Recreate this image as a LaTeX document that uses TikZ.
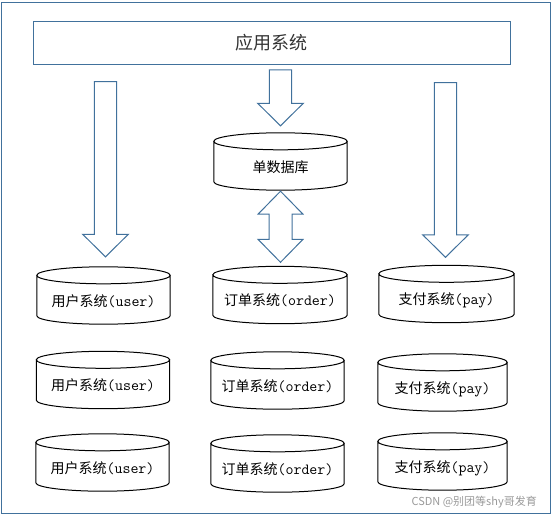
\documentclass[tikz,border=0pt]{standalone}
\usepackage{fontspec}
\setmainfont{Noto Sans CJK SC}
\usetikzlibrary{calc}
\definecolor{frameblue}{RGB}{65,113,156}
\newcommand{\dbtt}[1]{{\ttfamily\fontsize{15.5}{16}\selectfont #1}}

\begin{document}
\begin{tikzpicture}[
  x=1pt, y=-1pt,
  blueline/.style={draw=frameblue, line width=1pt},
  appbox/.style={
    blueline, minimum width=477pt, minimum height=43pt, inner sep=0pt,
    font=\fontsize{18}{20}\selectfont, text=black!80
  },
  % database drum: the node only holds the text, the outline is drawn below
  dbcyl/.style={
    minimum width=#1, minimum height=57pt, inner sep=0pt,
    text height=21pt, text depth=0pt, font=\fontsize{14}{16}\selectfont
  },
  dbcyl/.default=133pt,
  dbline/.style={draw=black, line width=1pt},
  % hollow block arrows
  blockdown/.style={
    blueline, fill=white, line join=miter,
    to path={let \p1=(\tikztostart), \p2=(\tikztotarget) in
      (\x1-11.2pt,\y1) -- (\x1+11.2pt,\y1) -- (\x1+11.2pt,\y2+22.5pt)
      -- (\x1+22.8pt,\y2+22.5pt) -- (\x1,\y2) -- (\x1-22.8pt,\y2+22.5pt)
      -- (\x1-11.2pt,\y2+22.5pt) -- cycle}
  },
  blockboth/.style={
    blueline, fill=white, line join=miter,
    to path={let \p1=(\tikztostart), \p2=(\tikztotarget) in
      (\x1,\y1) -- (\x1+22.5pt,\y1-23pt) -- (\x1+11.5pt,\y1-23pt)
      -- (\x1+11.5pt,\y2+23pt) -- (\x1+22.5pt,\y2+23pt) -- (\x1,\y2)
      -- (\x1-22.5pt,\y2+23pt) -- (\x1-11.5pt,\y2+23pt)
      -- (\x1-11.5pt,\y1-23pt) -- (\x1-22.5pt,\y1-23pt) -- cycle}
  }
]
\useasboundingbox (0,0) rectangle (554,519);

% ---------- outer frame and application box ----------
\draw[blueline] (1.5,2.3) rectangle (550,513.5);
\node[appbox] (app) at (271.7,42.7) {应用系统};

% ---------- single database ----------
\node[dbcyl] (db) at (280.5,161.5) {单数据库};

% ---------- split databases ----------
\node[dbcyl] (u1) at (103.5,295.5) {用户系统\dbtt{(user)}};
\node[dbcyl] (u2) at (103,380)     {用户系统\dbtt{(user)}};
\node[dbcyl] (u3) at (102.5,462.5) {用户系统\dbtt{(user)}};

\node[dbcyl=134pt] (o1) at (280,295)     {订单系统\dbtt{(order)}};
\node[dbcyl] (o2) at (277.5,380.5) {订单系统\dbtt{(order)}};
\node[dbcyl] (o3) at (277.5,463.5) {订单系统\dbtt{(order)}};

\node[dbcyl=135pt] (p1) at (446.5,294)   {支付系统\dbtt{(pay)}};
\node[dbcyl=129pt] (p2) at (442.5,382.5) {支付系统\dbtt{(pay)}};
\node[dbcyl=129pt] (p3) at (442.5,461.5) {支付系统\dbtt{(pay)}};

\foreach \c in {db,u1,u2,u3,o1,o2,o3,p1,p2,p3}
  \draw[dbline] let \p1=(\c.west), \p2=(\c.east) in
    ([yshift=-8.5pt]\c.north west) -- ([yshift=8.5pt]\c.south west)
    arc[start angle=180, end angle=360, x radius={(\x2-\x1)/2}, y radius=8.5pt]
    -- ([yshift=-8.5pt]\c.north east)
    ([yshift=-8.5pt]\c.north) ellipse[x radius={(\x2-\x1)/2}, y radius=8.5pt];

% ---------- block arrows ----------
\coordinate (uin)  at (105.5,81.5);
\coordinate (dbin) at (280.5,70);
\coordinate (pin)  at (445.5,82.5);

\draw[blockdown] (uin)  to ([yshift=10pt]u1.north);
\draw[blockdown] (dbin) to ([yshift=7pt]db.north);
\draw[blockdown] (pin)  to ([yshift=8pt]p1.north);
\draw[blockboth] ([yshift=-1pt]db.south) to ([yshift=4pt]o1.north);

\node[font=\fontsize{11}{13}\selectfont, text=black!40, anchor=east, inner sep=0pt]
  (wmark) at (537,502) {CSDN @别团等shy哥发育};

\end{tikzpicture}
\end{document}
